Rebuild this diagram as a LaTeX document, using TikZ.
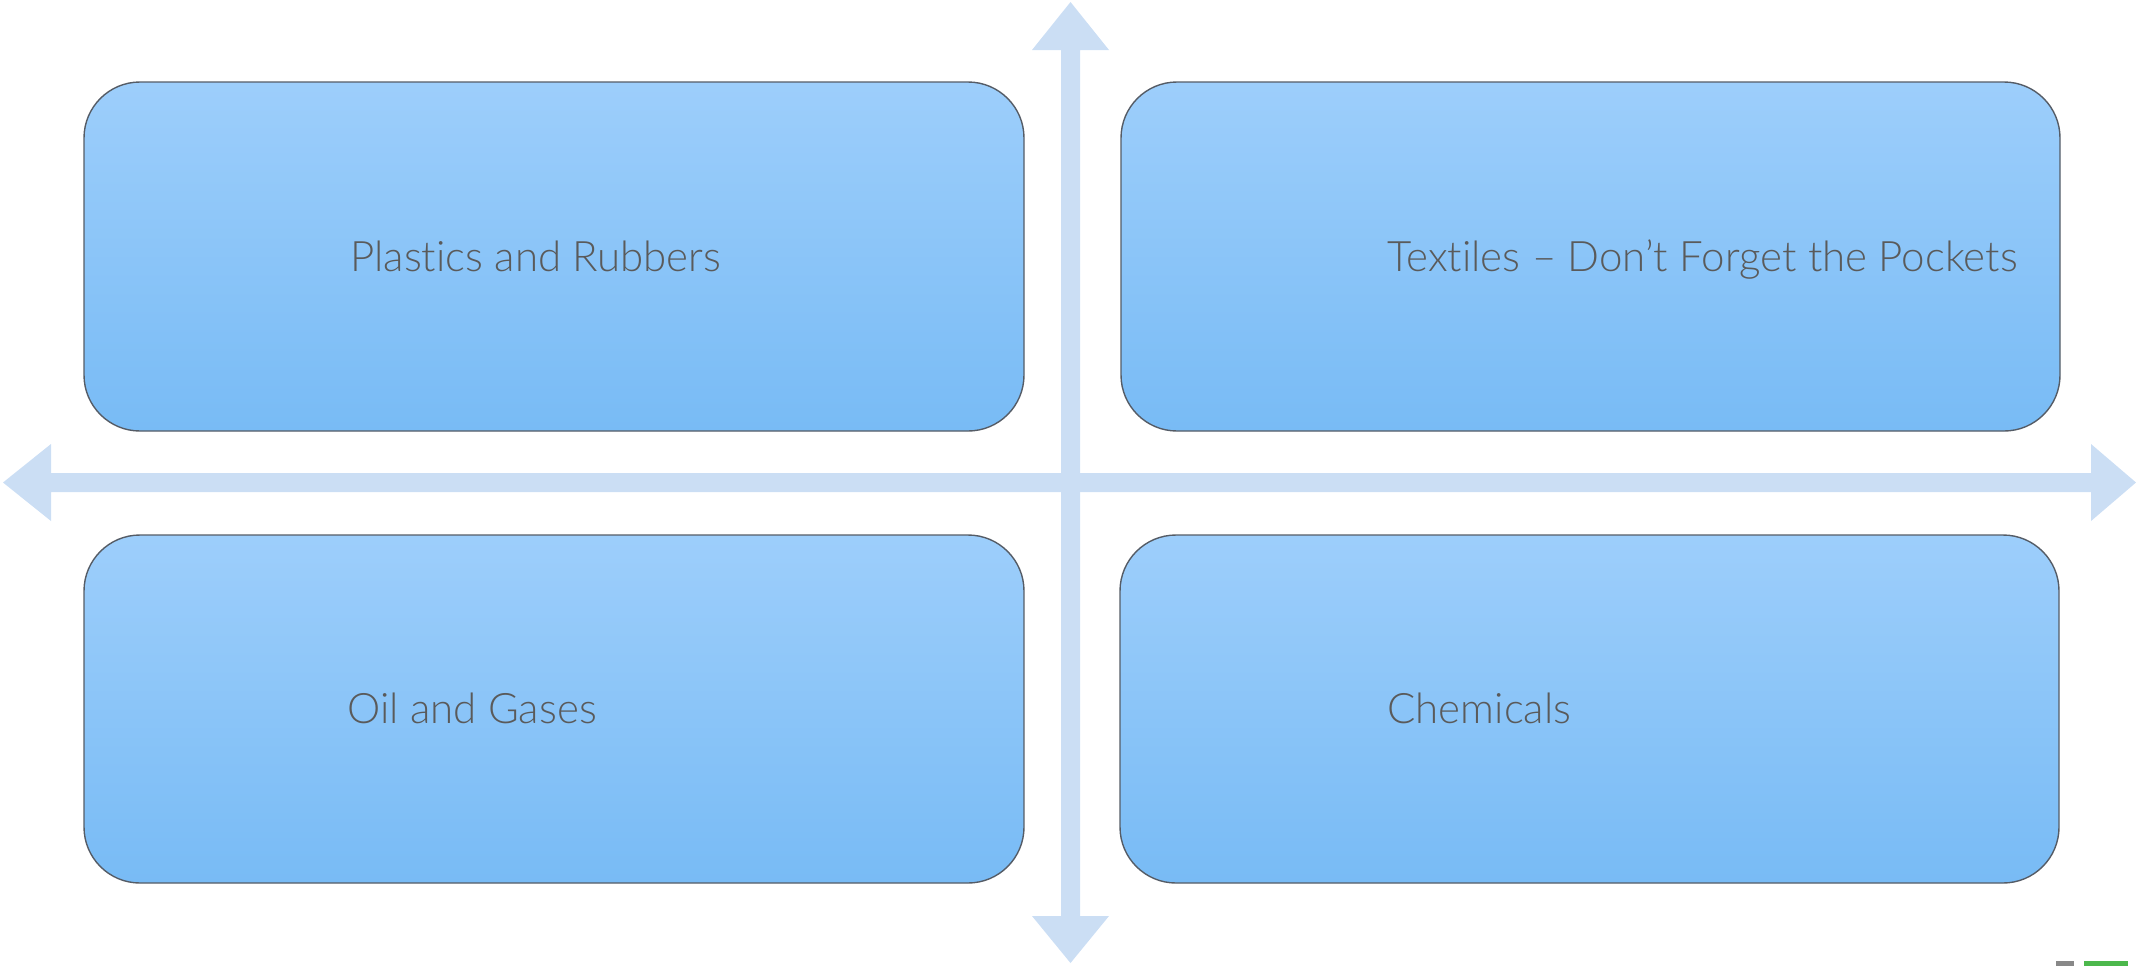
\documentclass[tikz,border=0pt]{standalone}
\usepackage{fontspec}
\setmainfont[Ligatures=NoCommon]{Lato Light}
\definecolor{axis}{RGB}{203,222,244}
\definecolor{boxtop}{RGB}{157,206,251}
\definecolor{boxbot}{RGB}{120,187,245}
\definecolor{boxline}{RGB}{85,92,102}
\definecolor{txt}{RGB}{90,90,90}
\definecolor{mygreen}{RGB}{76,184,76}
\definecolor{mygray}{RGB}{136,136,136}
\begin{document}
\begin{tikzpicture}[x=0.5pt,y=-0.5pt,
  quad/.style={draw=boxline,line width=0.7pt,rounded corners=28pt,top color=boxtop,bottom color=boxbot},
  lbl/.style={anchor=base west,inner sep=0pt,text=txt,font=\fontsize{21}{25}\selectfont},
  axisshape/.style={fill=axis,draw=none}]
\useasboundingbox (0,0) rectangle (2136,966);
% axes
\fill[axisshape] (3,482.5) -- (51,444) -- (51,473) -- (2091,473) -- (2091,444) -- (2136,482.5)
  -- (2091,521) -- (2091,492) -- (51,492) -- (51,521) -- cycle;
\fill[axisshape] (1070.5,2) -- (1109,50) -- (1080,50) -- (1080,916) -- (1109,916) -- (1070.5,963)
  -- (1032,916) -- (1061,916) -- (1061,50) -- (1032,50) -- cycle;
% boxes
\path[quad] (84,82) rectangle (1024,431);
\path[quad] (1121,82) rectangle (2060,431);
\path[quad] (84,535) rectangle (1024,883);
\path[quad] (1120,535) rectangle (2059,883);
% labels
\node[lbl] (pr) at (350,271) {Plastics and Rubbers};
\node[lbl] (tx) at (1387,271) {Textiles – Don’t Forget the Pockets};
\node[lbl] (og) at (347,723) {Oil and Gases};
\node[lbl] (ch) at (1387,723) {Chemicals};
% small marks bottom right
\fill[mygray] (2056,961) rectangle (2074,966);
\fill[mygreen] (2084,961) rectangle (2128,966);
\end{tikzpicture}
\end{document}
